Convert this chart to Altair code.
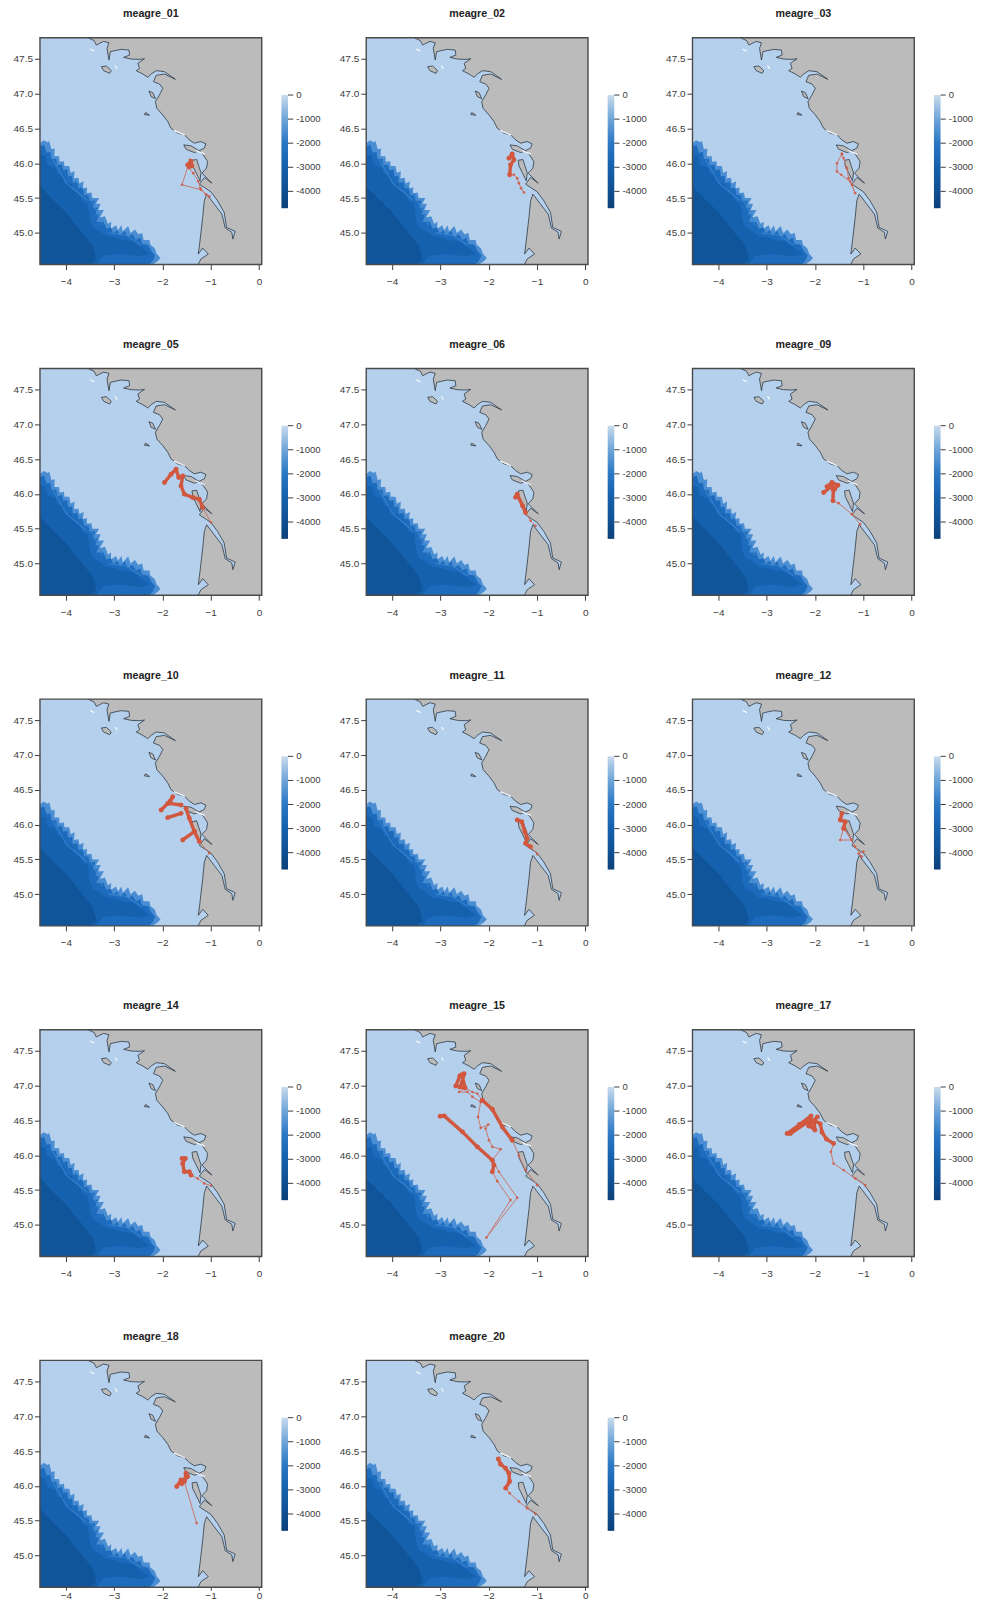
import altair as alt
import pandas as pd

WIDTH, HEIGHT = 222, 227
LON_DOMAIN = [-4.536, 0.056]
LAT_DOMAIN = [44.546, 47.80]
SEA, LAND = "#B4D0EC", "#BBBBBB"
LINE, TEXT = "#2E3A46", "#3C3C3C"
FONT = "Liberation Sans"

COAST = [(-3.54,47.80),(-3.416,47.76),(-3.368,47.696),(-3.30,47.72),(-3.217,47.748),(-3.107,47.729),
 (-3.148,47.648),(-3.107,47.481),(-3.079,47.60),(-2.99,47.615),(-2.853,47.634),(-2.694,47.624),
 (-2.68,47.552),(-2.804,47.519),(-2.646,47.495),(-2.474,47.49),(-2.371,47.50),(-2.509,47.433),
 (-2.474,47.361),(-2.543,47.328),(-2.406,47.28),(-2.303,47.233),(-2.234,47.28),(-2.13,47.328),
 (-1.959,47.314),(-1.732,47.204),(-1.959,47.28),(-2.13,47.261),(-2.186,47.17),(-2.062,47.137),
 (-1.993,47.075),(-2.062,46.98),(-2.145,46.884),(-2.117,46.789),(-1.993,46.693),(-1.89,46.598),
 (-1.822,46.502),(-1.684,46.431),(-1.546,46.407),(-1.443,46.335),(-1.34,46.288),(-1.203,46.311),
 (-1.10,46.278),(-1.134,46.216),(-1.237,46.182),(-1.155,46.12),(-1.065,46.025),(-1.086,45.93),
 (-1.182,45.858),(-0.975,45.714),(-1.133,45.795),(-1.236,45.70),(-0.996,45.59),(-0.858,45.461),
 (-0.721,45.294),(-0.673,45.079),(-0.494,45.022),(-0.542,44.912),(-0.563,45.008),(-0.70,45.07),
 (-0.769,45.27),(-0.927,45.413),(-1.085,45.557),(-1.133,45.461),(-1.167,45.222),(-1.222,44.888),
 (-1.257,44.697),(-1.167,44.783),(-1.051,44.697),(-1.202,44.626),(-1.262,44.546)]
LAND_CORNERS = [(0.056,44.546),(0.056,47.80)]
ISLANDS = [
 [(-3.265,47.385),(-3.162,47.395),(-3.059,47.328),(-3.093,47.29),(-3.217,47.328),(-3.265,47.385)],
 [(-2.28,47.036),(-2.20,47.013),(-2.143,46.926),(-2.234,46.956),(-2.28,47.036)],
 [(-2.353,46.727),(-2.302,46.708),(-2.268,46.689),(-2.371,46.698),(-2.353,46.727)],
 [(-1.559,46.263),(-1.408,46.249),(-1.236,46.177),(-1.339,46.153),(-1.511,46.201),(-1.559,46.263)],
 [(-1.387,46.043),(-1.291,46.053),(-1.25,45.962),(-1.202,45.867),(-1.222,45.747),(-1.305,45.867),(-1.374,45.962),(-1.387,46.043)],
]
WHITE_SHORE = [
 [(-3.49,47.634),(-3.42,47.61)],
 [(-2.976,47.395),(-2.941,47.361)],
 [(-1.753,46.469),(-1.546,46.407)],
 [(-1.306,46.182),(-1.134,46.135)],
]

DEPTH_EDGE = [(-4.536,46.287),(-4.46,46.33),(-4.38,46.30),(-4.344,46.32),(-4.30,46.20),(-4.23,46.21),(-4.24,46.10),
 (-4.14,46.10),(-4.13,46.02),(-4.04,46.03),(-4.03,45.96),(-3.93,45.96),(-3.90,45.86),(-3.82,45.89),(-3.83,45.78),
 (-3.74,45.79),(-3.72,45.71),(-3.63,45.74),(-3.65,45.64),(-3.56,45.65),(-3.57,45.57),(-3.47,45.58),(-3.45,45.50),
 (-3.31,45.50),(-3.38,45.42),(-3.28,45.42),(-3.33,45.33),(-3.21,45.33),(-3.30,45.22),(-3.19,45.24),(-3.13,45.13),
 (-3.06,45.16),(-3.07,45.06),(-2.96,45.11),(-2.92,45.04),(-2.85,45.11),(-2.82,45.02),(-2.71,45.10),(-2.66,45.00),
 (-2.57,45.05),(-2.50,44.98),(-2.42,45.00),(-2.39,44.90),(-2.27,44.90),(-2.25,44.83),(-2.16,44.78),(-2.12,44.70),
 (-2.04,44.64),(-2.09,44.60),(-2.2,44.546),(-4.536,44.546)]
DEPTH_MID = [(-4.536,46.24),(-4.45,46.26),(-4.40,46.15),(-4.32,46.16),(-4.30,46.06),(-4.20,46.06),(-4.18,45.97),
 (-4.08,45.98),(-4.06,45.90),(-3.97,45.91),(-3.95,45.81),(-3.87,45.82),(-3.86,45.72),(-3.76,45.73),(-3.74,45.64),
 (-3.65,45.65),(-3.62,45.54),(-3.52,45.55),(-3.52,45.46),(-3.39,45.46),(-3.44,45.36),(-3.34,45.36),(-3.39,45.26),
 (-3.30,45.27),(-3.37,45.16),(-3.22,45.16),(-3.16,45.06),(-3.07,45.08),(-3.02,44.99),(-2.94,45.04),(-2.88,44.96),
 (-2.78,45.03),(-2.72,44.94),(-2.62,44.98),(-2.55,44.90),(-2.46,44.93),(-2.42,44.84),(-2.30,44.83),(-2.22,44.73),
 (-2.15,44.68),(-2.2,44.60),(-2.28,44.546),(-4.536,44.546)]
DEPTH_MAIN = [(-4.536,46.12),(-4.42,46.10),(-4.38,45.98),(-4.22,45.94),(-4.16,45.84),(-4.05,45.84),(-4.0,45.72),
 (-3.88,45.70),(-3.82,45.60),(-3.72,45.56),(-3.66,45.46),(-3.55,45.42),(-3.52,45.30),(-3.50,45.18),(-3.44,45.08),
 (-3.28,45.02),(-3.16,44.95),(-3.0,44.94),(-2.84,44.90),(-2.62,44.88),(-2.42,44.78),(-2.26,44.70),(-2.474,44.664),
 (-2.886,44.70),(-3.23,44.674),(-3.368,44.546),(-4.536,44.546)]
DEPTH_DEEP = [(-4.536,45.667),(-4.33,45.524),(-3.986,45.285),(-3.712,45.047),(-3.437,44.808),(-3.368,44.617),
 (-3.505,44.546),(-4.536,44.546)]
DEPTH_LAYERS = [(DEPTH_EDGE,"#4A8DD3"),(DEPTH_MID,"#1C6BBD"),(DEPTH_MAIN,"#1561AE"),(DEPTH_DEEP,"#10549A")]
STREAKS = [[(-4.262,46.048),(-3.987,45.714),(-3.575,45.475)],
           [(-3.8,45.75),(-3.55,45.55),(-3.35,45.3),(-3.25,45.12)],
           [(-3.1,45.0),(-2.75,44.97),(-2.45,44.83)]]

BAR_STOPS = [(0,"#C9DAEC"),(0.1,"#9DC1E3"),(0.22,"#6CA3D8"),(0.42,"#2B78C4"),(0.62,"#1662AE"),(0.85,"#0F4F92"),(1,"#0C3F78")]
BAR_EXTENT = [-4700, 0]
BAR_TICKS = [0, -1000, -2000, -3000, -4000]
X_TICKS = [-4, -3, -2, -1, 0]
Y_TICKS = [45.0, 45.5, 46.0, 46.5, 47.0, 47.5]

NAMES = ["meagre_01","meagre_02","meagre_03","meagre_05","meagre_06","meagre_09","meagre_10",
         "meagre_11","meagre_12","meagre_14","meagre_15","meagre_17","meagre_18","meagre_20"]
LAST_ROW = ["meagre_18", "meagre_20"]

THIN = {
 "meagre_01": [(-1.031,45.524),(-1.203,45.62),(-1.595,45.691),(-1.43,46.05),(-1.45,45.93),(-1.361,45.858),(-1.258,45.74),(-1.216,45.643),(-1.10,45.555)],
 "meagre_02": [(-1.567,45.834),(-1.478,45.834),(-1.41,45.786),(-1.375,45.714),(-1.33,45.64),(-1.272,45.581)],
 "meagre_03": [(-1.442,46.134),(-1.545,46.0),(-1.545,45.881),(-1.456,45.834),(-1.27,45.738),(-1.167,45.571),(-1.236,45.69),(-1.305,45.786),(-1.339,45.929),(-1.408,46.072),(-1.442,46.134)],
 "meagre_05": [(-1.168,45.805),(-0.996,45.59)],
 "meagre_06": [(-1.238,45.733),(-1.134,45.614),(-1.031,45.542)],
 "meagre_09": [(-1.628,45.9),(-1.511,45.867),(-1.236,45.709),(-1.065,45.566)],
 "meagre_10": [(-1.237,45.755),(-1.031,45.588)],
 "meagre_11": [(-1.134,45.683),(-0.997,45.574)],
 "meagre_12": [(-1.408,45.945),(-1.477,45.778),(-1.236,45.778),(-1.374,45.92),(-1.168,45.68),(-1.03,45.54),(-1.099,45.585),(-0.996,45.611)],
 "meagre_14": [(-1.409,45.714),(-1.271,45.667),(-1.134,45.595),(-0.996,45.562)],
 "meagre_15": [(-1.925,45.762),(-1.822,45.628),(-1.547,45.356),(-2.049,44.817),(-1.41,45.39),(-1.788,45.762),(-1.925,45.929),(-1.753,46.087),(-1.925,46.12),(-1.994,46.215),(-2.063,46.382),(-2.008,46.44),(-2.166,46.392),(-2.221,46.55),(-2.166,46.764),(-2.338,46.836),(-2.441,46.907),(-2.613,46.907),(-2.489,46.965),(-2.338,46.907),(-2.235,46.885),(-2.132,46.788),(-1.925,46.659),(-1.513,46.215),(-1.375,46.0),(-1.238,45.786),(-0.997,45.57)],
 "meagre_17": [(-0.962,45.571),(-1.168,45.666),(-1.408,45.786),(-1.615,45.881),(-1.67,46.048),(-1.615,46.167)],
 "meagre_18": [(-1.546,46.062),(-1.292,45.466)],
 "meagre_20": [(-1.65,45.967),(-1.567,45.895),(-1.375,45.776),(-1.203,45.68),(-1.031,45.595)],
}
THICK = {
 "meagre_01": [[(-1.478,45.977),(-1.41,46.03),(-1.39,45.96),(-1.45,45.95)]],
 "meagre_02": [[(-1.581,46.072),(-1.513,46.134),(-1.478,46.048),(-1.547,45.977),(-1.567,45.834)]],
 "meagre_03": [],
 "meagre_05": [[(-1.958,46.163),(-1.821,46.282),(-1.718,46.354),(-1.663,46.234),(-1.581,46.258),(-1.615,46.115),(-1.546,45.996),(-1.374,45.948),(-1.237,45.924),(-1.168,45.805)]],
 "meagre_06": [[(-1.444,45.95),(-1.41,45.996),(-1.30,45.83),(-1.238,45.733)]],
 "meagre_09": [[(-1.752,46.105),(-1.649,46.163),(-1.525,46.124),(-1.594,46.067),(-1.65,46.11),(-1.82,46.02)],[(-1.62,46.06),(-1.628,45.9)]],
 "meagre_10": [[(-2.027,46.209),(-1.89,46.304),(-1.787,46.399),(-1.85,46.304),(-1.615,46.28)],[(-1.89,46.099),(-1.615,46.161)],[(-1.512,46.232),(-1.443,46.089),(-1.34,45.90),(-1.58,45.779)],[(-1.34,45.90),(-1.237,45.755)]],
 "meagre_11": [[(-1.409,46.065),(-1.315,46.04),(-1.251,45.898),(-1.203,45.803),(-1.237,45.731),(-1.134,45.683)]],
 "meagre_12": [[(-1.443,46.16),(-1.477,46.065),(-1.374,46.041),(-1.408,45.945)]],
 "meagre_14": [[(-1.594,45.953),(-1.526,45.953),(-1.581,45.881),(-1.546,45.762),(-1.443,45.762),(-1.409,45.714)]],
 "meagre_15": [[(-3.004,46.559),(-2.922,46.564),(-2.544,46.335),(-2.235,46.12),(-1.925,45.929),(-1.891,45.857),(-1.925,45.762)],
               [(-2.681,46.993),(-2.599,47.136),(-2.51,47.17),(-2.544,47.05),(-2.599,46.979),(-2.489,46.965),(-2.557,47.156)],
               [(-2.132,46.788),(-1.925,46.659),(-1.719,46.406),(-1.513,46.215)]],
 "meagre_17": [[(-1.615,46.167),(-1.76,46.23),(-1.855,46.33),(-1.89,46.45),(-2.02,46.50),(-2.0,46.36),(-2.10,46.42),(-2.165,46.47),(-2.508,46.311),(-2.577,46.311),(-2.32,46.44),(-2.082,46.564),(-2.13,46.42),(-1.95,46.55)]],
 "meagre_18": [[(-1.704,45.991),(-1.615,46.086),(-1.546,46.062),(-1.512,46.182),(-1.478,46.134),(-1.60,46.03)]],
 "meagre_20": [[(-1.801,46.387),(-1.753,46.31),(-1.65,46.253),(-1.581,46.182),(-1.567,46.062),(-1.65,45.967)]],
}
THIN_COLOR, THICK_COLOR = "#C8786E", "#D2573F"

def frame(points):
    return pd.DataFrame({"lon": [p[0] for p in points], "lat": [p[1] for p in points], "i": list(range(len(points)))})

lon_scale = alt.Scale(domain=LON_DOMAIN, nice=False, zero=False)
lat_scale = alt.Scale(domain=LAT_DOMAIN, nice=False, zero=False)

def x_axis(last):
    return alt.Axis(values=X_TICKS, format="d", grid=False, domain=False, tickSize=3 if last else 5, tickWidth=1, tickColor=TEXT,
                    labelColor=TEXT, labelFont=FONT, labelFontSize=10, labelPadding=0 if last else 7, labelFlush=False, labelOverlap=False)

y_axis = alt.Axis(values=Y_TICKS, format=".1f", grid=False, domain=False, tickSize=5.5, tickWidth=1, tickColor=TEXT,
                  labelColor=TEXT, labelFont=FONT, labelFontSize=10, labelPadding=2, labelOverlap=False)

def xy(last=False):
    return dict(x=alt.X("lon:Q", scale=lon_scale, title=None, axis=x_axis(last)),
                y=alt.Y("lat:Q", scale=lat_scale, title=None, axis=y_axis))

def poly(points, fill, last, stroke=None, sw=0.8):
    kw = dict(fill=fill, interpolate="linear", strokeJoin="round")
    kw.update(stroke=stroke if stroke else fill, strokeWidth=sw if stroke else 0)
    return alt.Chart(frame(points)).mark_line(**kw).encode(order=alt.Order("i:Q"), **xy(last))

def path(points, color, sw, last, opacity=1.0):
    return alt.Chart(frame(points)).mark_line(color=color, strokeWidth=sw, opacity=opacity, strokeJoin="round",
                                              strokeCap="round", clip=True).encode(order=alt.Order("i:Q"), **xy(last))

def map_layers(last):
    layers = [poly(COAST + LAND_CORNERS, LAND, last)]
    layers += [poly(pts, col, last) for pts, col in DEPTH_LAYERS]
    layers += [path(s, "#3A85D0", 1.3, last, 0.8) for s in STREAKS]
    layers.append(path(COAST, LINE, 0.8, last))
    layers += [poly(isl, LAND, last, LINE, 0.8) for isl in ISLANDS]
    layers += [path(seg, "#F4F8FC", 1.3, last) for seg in WHITE_SHORE]
    return layers

bar_scale = alt.Scale(domain=BAR_EXTENT, range=[170.6, 57.3], nice=False, zero=False)
gradient = alt.Gradient(gradient="linear", x1=0, x2=0, y1=0, y2=1,
                        stops=[alt.GradientStop(offset=o, color=c) for o, c in BAR_STOPS])
bar_df = pd.DataFrame({"top": [BAR_EXTENT[1]], "bottom": [BAR_EXTENT[0]]})
tick_df = pd.DataFrame({"v": BAR_TICKS, "label": [("-" + str(-v)) if v else "0" for v in BAR_TICKS]})
colorbar = alt.layer(
    alt.Chart(bar_df).mark_rect(fill=gradient).encode(
        y=alt.Y("top:Q", scale=bar_scale, axis=None), y2="bottom:Q",
        x=alt.value(241.7), x2=alt.value(248.3)),
    alt.Chart(tick_df).mark_rule(color=TEXT, strokeWidth=1).encode(
        y=alt.Y("v:Q", scale=bar_scale, axis=None), x=alt.value(248.3), x2=alt.value(253.5)),
    alt.Chart(tick_df).mark_text(align="left", baseline="middle", font=FONT, fontSize=9.5, color=TEXT).encode(
        y=alt.Y("v:Q", scale=bar_scale, axis=None), x=alt.value(256.5), text="label:N"),
)
border = alt.Chart(pd.DataFrame({"a": [0]})).mark_rect(filled=False, stroke="#4A4A4A", strokeWidth=1.4).encode(
    x=alt.value(0), x2=alt.value(WIDTH), y=alt.value(0), y2=alt.value(HEIGHT))

regular_base = map_layers(False)
last_base = map_layers(True)

def panel(name):
    last = name in LAST_ROW
    layers = list(last_base if last else regular_base)
    if THIN[name]:
        layers.append(path(THIN[name], THIN_COLOR, 1.0, last))
        layers.append(alt.Chart(frame(THIN[name])).mark_circle(color=THICK_COLOR, size=7, opacity=0.85).encode(**xy(last)))
    for run in THICK[name]:
        layers.append(path(run, THICK_COLOR, 3.4, last))
        layers.append(alt.Chart(frame(run)).mark_circle(color=THICK_COLOR, size=24, opacity=1).encode(**xy(last)))
    inner = alt.layer(*layers)
    return alt.layer(inner, colorbar, border).resolve_scale(y="independent").resolve_axis(y="independent").properties(
        width=WIDTH, height=HEIGHT,
        title=alt.TitleParams(name, font=FONT, fontSize=10.7, fontWeight="bold", color="#222222", offset=17, anchor="middle"))

chart = alt.concat(*[panel(n) for n in NAMES], columns=3, spacing=alt.RowColnumber(row=104, column=104.6), bounds="flush").properties(
    padding={"left": 5, "top": -1, "right": 2, "bottom": -1}
).configure_view(fill=SEA, stroke=None)

chart.save("out.html", embed_options={"renderer": "svg", "actions": False})
